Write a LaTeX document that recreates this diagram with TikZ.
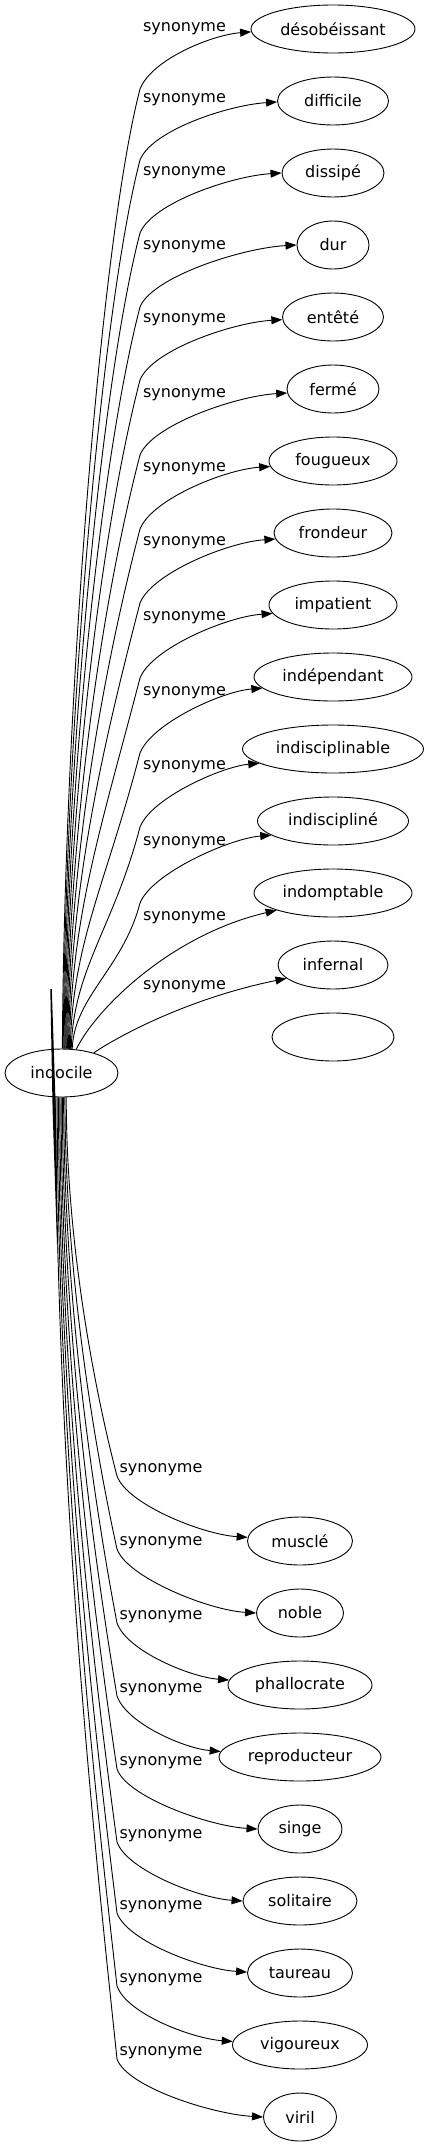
\documentclass[tikz,border=0pt]{standalone}
\usepackage{fontspec}
\newfontfamily\dejavu{DejaVu Sans}
\usetikzlibrary{shapes.geometric,arrows.meta,calc}
\begin{document}
\begin{tikzpicture}[x=1pt,y=-1pt,
  word/.style={ellipse,draw,line width=0.9pt,minimum height=48pt,inner sep=0pt,
    font=\dejavu\fontsize{16}{19}\selectfont},
  lab/.style={inner sep=0pt,font=\dejavu\fontsize{16}{19}\selectfont},
  edge/.style={draw,line width=0.9pt,-{Triangle[length=11pt,width=8pt]}}]
\useasboundingbox (0,0) rectangle (429,2147);

% central node
\node[word,minimum width=113pt] (indocile) at (61.5,1073) {indocile};

% top nodes
\foreach \n/\t/\w [count=\k from 0] in {
  t0/désobéissant/164, t1/difficile/111, t2/dissipé/102, t3/dur/72,
  t4/entêté/101, t5/fermé/92, t6/fougueux/128, t7/frondeur/118,
  t8/impatient/128, t9/indépendant/158, t10/indisciplinable/181,
  t11/indiscipliné/151, t12/indomptable/158, t13/infernal/110}{
  \pgfmathsetmacro\ny{29+72*\k}
  \node[word,minimum width=\w pt] (\n) at (333,\ny) {\t};
}
\node[word,minimum width=122pt] (e14) at (333,1037) {};

% bottom nodes
\foreach \n/\t/\w [count=\k from 0] in {
  b0/musclé/105, b1/noble/87, b2/phallocrate/144, b3/reproducteur/162,
  b4/singe/84, b5/solitaire/114, b6/taureau/105, b7/vigoureux/135, b8/viril/73}{
  \pgfmathsetmacro\ny{1541+72*\k}
  \node[word,minimum width=\w pt] (\n) at (300,\ny) {\t};
}

% top labels
\foreach \L [count=\k from 0] in {29,100,173,247,320,395,469,543,618,693,767,843,918,987}{
  \node[lab] (lt\k) at (184.5,\L) {synonyme};
}
% bottom labels
\foreach \L [count=\k from 0] in {1470,1543,1617,1690,1763,1836,1907,1980,2053}{
  \node[lab] (lb\k) at (161,\L) {synonyme};
}

% top edges k = 0..11
\foreach \n/\L/\ts/\te/\w in {
  t0/29/88/182/164, t1/100/86/181/111, t2/173/84/180/102, t3/247/82/180/72,
  t4/320/80/183/101, t5/395/78/185/92, t6/469/76/185/128, t7/543/74/186/118,
  t8/618/72/188/128, t9/693/70/189/158, t10/767/68/191/181, t11/843/66/193/151}{
  \pgfmathsetmacro\My{\L+60}
  \pgfmathsetmacro\spn{1049-\My}
  \pgfmathsetmacro\ha{0.36*\spn}
  \pgfmathsetmacro\hb{min(150,0.45*\spn)}
  \pgfmathsetmacro\hbx{0.26*\hb}
  \pgfmathsetmacro\dx{0.35*(333-\w/2-140)}
  \coordinate (M) at (140,\My);
  \draw[edge] (indocile.\ts) .. controls ($(indocile.\ts)+(2,-\ha)$) and ($(M)+(-\hbx,\hb)$) .. (M)
     .. controls ($(M)+(12,-30)$) and ($(\n.\te)+(-\dx,3)$) .. (\n.\te);
}
% top edges k = 12, 13
\draw[edge] (indocile.58) .. controls (95,1010) and (170,935) .. (t12.197);
\draw[edge] (indocile.32) .. controls (120,1035) and (190,998) .. (t13.196);

% bottom edges
\foreach \n/\L/\ts/\te/\w in {
  b0/1470/281/176/105, b1/1543/278/180/87, b2/1617/275/176/144, b3/1690/272/176/162,
  b4/1763/269/180/84, b5/1836/266/180/114, b6/1907/263/179/105, b7/1980/260/177/135,
  b8/2053/257/180/73}{
  \pgfmathsetmacro\My{\L+6}
  \pgfmathsetmacro\spn{\My-1097}
  \pgfmathsetmacro\ha{0.42*\spn}
  \pgfmathsetmacro\hb{0.17*\spn}
  \pgfmathsetmacro\dx{0.35*(300-\w/2-117)}
  \coordinate (M) at (117,\My);
  \draw[edge] (indocile.\ts) .. controls ($(indocile.\ts)+(0,\ha)$) and ($(M)+(-17,-\hb)$) .. (M)
     .. controls ($(M)+(10,28)$) and ($(\n.\te)+(-\dx,-3)$) .. (\n.\te);
}

% stray wedge stroke
\fill (50.3,989) -- (51.8,989) -- (55.8,1110) -- (57.5,1260) -- (52.6,1110) -- cycle;
\end{tikzpicture}
\end{document}
